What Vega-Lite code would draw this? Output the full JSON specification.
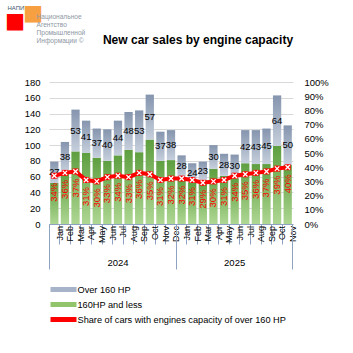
{
  "$schema": "https://vega.github.io/schema/vega-lite/v6.json",
  "width": 244,
  "height": 142,
  "autosize": "none",
  "padding": {"left": 49, "top": 82, "right": 60, "bottom": 129},
  "background": "#ffffff",
  "title": {"text": "New car sales by engine capacity", "fontSize": 12, "fontWeight": "bold", "font": "Liberation Sans", "color": "#000000", "anchor": "middle", "frame": "group", "dx": 27, "offset": 0, "dy": 44},
  "config": {"view": {"stroke": null}, "font": "Liberation Sans"},
  "data": {"values": [
    {"period": "Jan 2024", "low": 52, "high": 27, "total": 79, "share": 0.34},
    {"period": "Feb 2024", "low": 66, "high": 38, "total": 104, "share": 0.36},
    {"period": "Mar 2024", "low": 92, "high": 53, "total": 145, "share": 0.37},
    {"period": "Apr 2024", "low": 90, "high": 41, "total": 131, "share": 0.31},
    {"period": "May 2024", "low": 84, "high": 37, "total": 121, "share": 0.30},
    {"period": "Jun 2024", "low": 80, "high": 40, "total": 120, "share": 0.33},
    {"period": "Jul 2024", "low": 87, "high": 44, "total": 131, "share": 0.34},
    {"period": "Aug 2024", "low": 94, "high": 48, "total": 142, "share": 0.33},
    {"period": "Sep 2024", "low": 91, "high": 53, "total": 144, "share": 0.36},
    {"period": "Oct 2024", "low": 107, "high": 57, "total": 164, "share": 0.35},
    {"period": "Nov 2024", "low": 80, "high": 37, "total": 117, "share": 0.31},
    {"period": "Dec 2024", "low": 81, "high": 38, "total": 119, "share": 0.32},
    {"period": "Jan 2025", "low": 59, "high": 28, "total": 87, "share": 0.32},
    {"period": "Feb 2025", "low": 53, "high": 24, "total": 77, "share": 0.31},
    {"period": "Mar 2025", "low": 56, "high": 23, "total": 79, "share": 0.29},
    {"period": "Apr 2025", "low": 70, "high": 30, "total": 100, "share": 0.30},
    {"period": "May 2025", "low": 61, "high": 28, "total": 89, "share": 0.31},
    {"period": "Jun 2025", "low": 58, "high": 30, "total": 88, "share": 0.34},
    {"period": "Jul 2025", "low": 77, "high": 42, "total": 119, "share": 0.35},
    {"period": "Aug 2025", "low": 76, "high": 43, "total": 119, "share": 0.36},
    {"period": "Sep 2025", "low": 76, "high": 45, "total": 121, "share": 0.37},
    {"period": "Oct 2025", "low": 99, "high": 64, "total": 163, "share": 0.39},
    {"period": "Nov 2025", "low": 75, "high": 50, "total": 125, "share": 0.40}
  ]},
  "resolve": {"scale": {"y": "independent"}, "axis": {"x": "independent"}},
  "layer": [
    {
      "mark": {"type": "bar", "width": {"band": 0.78}, "color": {"gradient": "linear", "x1": 0, "y1": 0, "x2": 0, "y2": 1, "stops": [{"offset": 0, "color": "#5E9E40"}, {"offset": 1, "color": "#AED793"}]}},
      "encoding": {
        "x": {"field": "period", "type": "nominal", "sort": null, "scale": {"paddingInner": 0, "paddingOuter": 0},
          "axis": {"orient": "bottom", "bandPosition": 0, "labelOffset": 5.3, "labelAngle": 270, "labelAlign": "right", "labelBaseline": "middle", "labelPadding": -18.5, "tickSize": 20, "tickColor": "#8EA3C2", "domainColor": "#8EA3C2", "labelExpr": "split(datum.label, ' ')[0]", "labelFontSize": 9, "labelColor": "#000000", "labelOverlap": false, "grid": false,
            "title": "■", "titleFont": "DejaVu Sans", "titleFontSize": 21.3, "titleFontWeight": "normal", "titleColor": "#FF0000", "titleAngle": 0, "titleAlign": "left", "titleBaseline": "alphabetic", "titleX": -44.6, "titleY": -196.3}},
        "y": {"field": "low", "type": "quantitative", "scale": {"domain": [0, 180]},
          "axis": {"orient": "left", "values": [0, 20, 40, 60, 80, 100, 120, 140, 160, 180], "ticks": false, "domain": false, "grid": true, "gridColor": "#D9D9D9", "gridOpacity": 1, "gridWidth": 1, "labelFontSize": 9.5, "labelColor": "#000000", "labelPadding": 9, "labelOverlap": false,
            "title": ["Национальное", "Агентство", "Промышленной", "Информации ©"], "titleAngle": 0, "titleAlign": "left", "titleBaseline": "top", "titleX": -13, "titleY": -69, "titleFontSize": 6.6, "titleFontWeight": "normal", "titleColor": "#8E97A3", "titleLineHeight": 8}}
      }
    },
    {
      "mark": {"type": "bar", "width": {"band": 0.78}, "color": {"gradient": "linear", "x1": 0, "y1": 0, "x2": 0, "y2": 1, "stops": [{"offset": 0, "color": "#8595AE"}, {"offset": 1, "color": "#C6CFDC"}]}},
      "encoding": {
        "x": {"field": "period", "type": "nominal", "sort": null, "scale": {"paddingInner": 0, "paddingOuter": 0},
          "axis": {"orient": "bottom", "values": ["Nov 2025"], "bandPosition": 1, "labels": false, "domain": false, "ticks": true, "tickSize": 45, "tickColor": "#8EA3C2", "grid": false, "title": null}},
        "y": {"field": "low", "type": "quantitative", "scale": {"domain": [0, 180]}, "axis": null},
        "y2": {"field": "total"}
      }
    },
    {
      "transform": [
        {"fold": ["low", "total"], "as": ["part", "v"]},
        {"stack": "v", "groupby": ["period"], "sort": [{"field": "part", "order": "ascending"}], "as": ["s0", "s1"]},
        {"filter": "datum.part == 'total'"}
      ],
      "mark": {"type": "text", "fontSize": 9.5, "color": "#000000", "baseline": "middle"},
      "encoding": {
        "x": {"field": "period", "type": "nominal", "sort": null, "scale": {"paddingInner": 0, "paddingOuter": 0},
          "axis": {"orient": "bottom", "values": ["Jan 2024", "Jan 2025"], "bandPosition": 0, "labels": false, "domain": false, "ticks": true, "tickSize": 45, "tickColor": "#8EA3C2", "grid": false,
            "title": "■", "titleFont": "DejaVu Sans", "titleFontSize": 21.3, "titleFontWeight": "normal", "titleColor": "#F7A042", "titleAngle": 0, "titleAlign": "left", "titleBaseline": "alphabetic", "titleX": -26.6, "titleY": -204.3}},
        "y": {"field": "s1", "type": "quantitative", "scale": {"domain": [0, 360]}, "axis": null},
        "text": {"field": "high", "type": "quantitative"}
      }
    },
    {
      "layer": [
        {
          "mark": {"type": "line", "strokeWidth": 4},
          "encoding": {
            "x": {"field": "period", "type": "nominal", "sort": null, "scale": {"paddingInner": 0, "paddingOuter": 0},
              "axis": {"orient": "bottom", "values": ["Jul 2024"], "bandPosition": 0, "labelExpr": "split(datum.label, ' ')[1]", "labelAngle": 0, "labelAlign": "center", "labelBaseline": "top", "ticks": false, "tickSize": 0, "domain": false, "labelPadding": 33, "labelFontSize": 9.5, "labelColor": "#000000", "labelOverlap": false, "grid": false, "title": null}},
            "y": {"field": "share", "type": "quantitative", "scale": {"domain": [0, 1]}, "axis": null},
            "color": {"datum": "Share of cars with engines capacity of over 160 HP", "type": "nominal",
              "scale": {"domain": ["Over 160 HP", "160HP and less", "Share of cars with engines capacity of over 160 HP"], "range": ["#A6B3C9", "#92C46C", "#FF0000"]},
              "legend": {"orient": "none", "legendX": 9.5, "legendY": 202.5, "title": null, "direction": "vertical", "symbolType": "M-5.2,0H5.2", "symbolSize": 25, "symbolStrokeWidth": 5, "labelFontSize": 9.2, "labelColor": "#000000", "labelOffset": 9, "rowPadding": -12, "labelLimit": 400}}
          }
        },
        {
          "mark": {"type": "point", "shape": "square", "filled": true, "color": "#FF0000", "size": 36, "opacity": 1},
          "encoding": {
            "x": {"field": "period", "type": "nominal", "sort": null, "scale": {"paddingInner": 0, "paddingOuter": 0}},
            "y": {"field": "share", "type": "quantitative", "axis": null}
          }
        },
        {
          "mark": {"type": "point", "shape": "M-1,-1L1,1M-1,1L1,-1", "filled": false, "stroke": "#FFFFFF", "strokeWidth": 1.3, "size": 20, "opacity": 1},
          "encoding": {
            "x": {"field": "period", "type": "nominal", "sort": null, "scale": {"paddingInner": 0, "paddingOuter": 0}},
            "y": {"field": "share", "type": "quantitative", "axis": null}
          }
        }
      ]
    },
    {
      "mark": {"type": "text", "angle": 270, "align": "right", "baseline": "middle", "dx": -7, "color": "#FF0000", "fontSize": 9.5},
      "encoding": {
        "x": {"field": "period", "type": "nominal", "sort": null, "scale": {"paddingInner": 0, "paddingOuter": 0},
          "axis": {"orient": "bottom", "values": ["Jun 2025"], "bandPosition": 0.5, "labelExpr": "split(datum.label, ' ')[1]", "labelAngle": 0, "labelAlign": "center", "labelBaseline": "top", "ticks": false, "tickSize": 0, "domain": false, "labelPadding": 33, "labelFontSize": 9.5, "labelColor": "#000000", "labelOverlap": false, "grid": false, "title": null}},
        "y": {"field": "share", "type": "quantitative", "scale": {"domain": [0, 1]},
          "axis": {"orient": "right", "values": [0, 0.1, 0.2, 0.3, 0.4, 0.5, 0.6, 0.7, 0.8, 0.9, 1], "format": ".0%", "ticks": false, "domain": false, "grid": false, "labelPadding": 11, "labelFontSize": 9.5, "labelColor": "#000000", "labelOverlap": false,
            "title": "НАПИ", "titleAngle": 0, "titleAlign": "left", "titleBaseline": "top", "titleX": -286, "titleY": -78, "titleFontSize": 6, "titleFontWeight": "normal", "titleColor": "#44546A"}},
        "text": {"field": "share", "type": "quantitative", "format": ".0%"}
      }
    }
  ]
}
